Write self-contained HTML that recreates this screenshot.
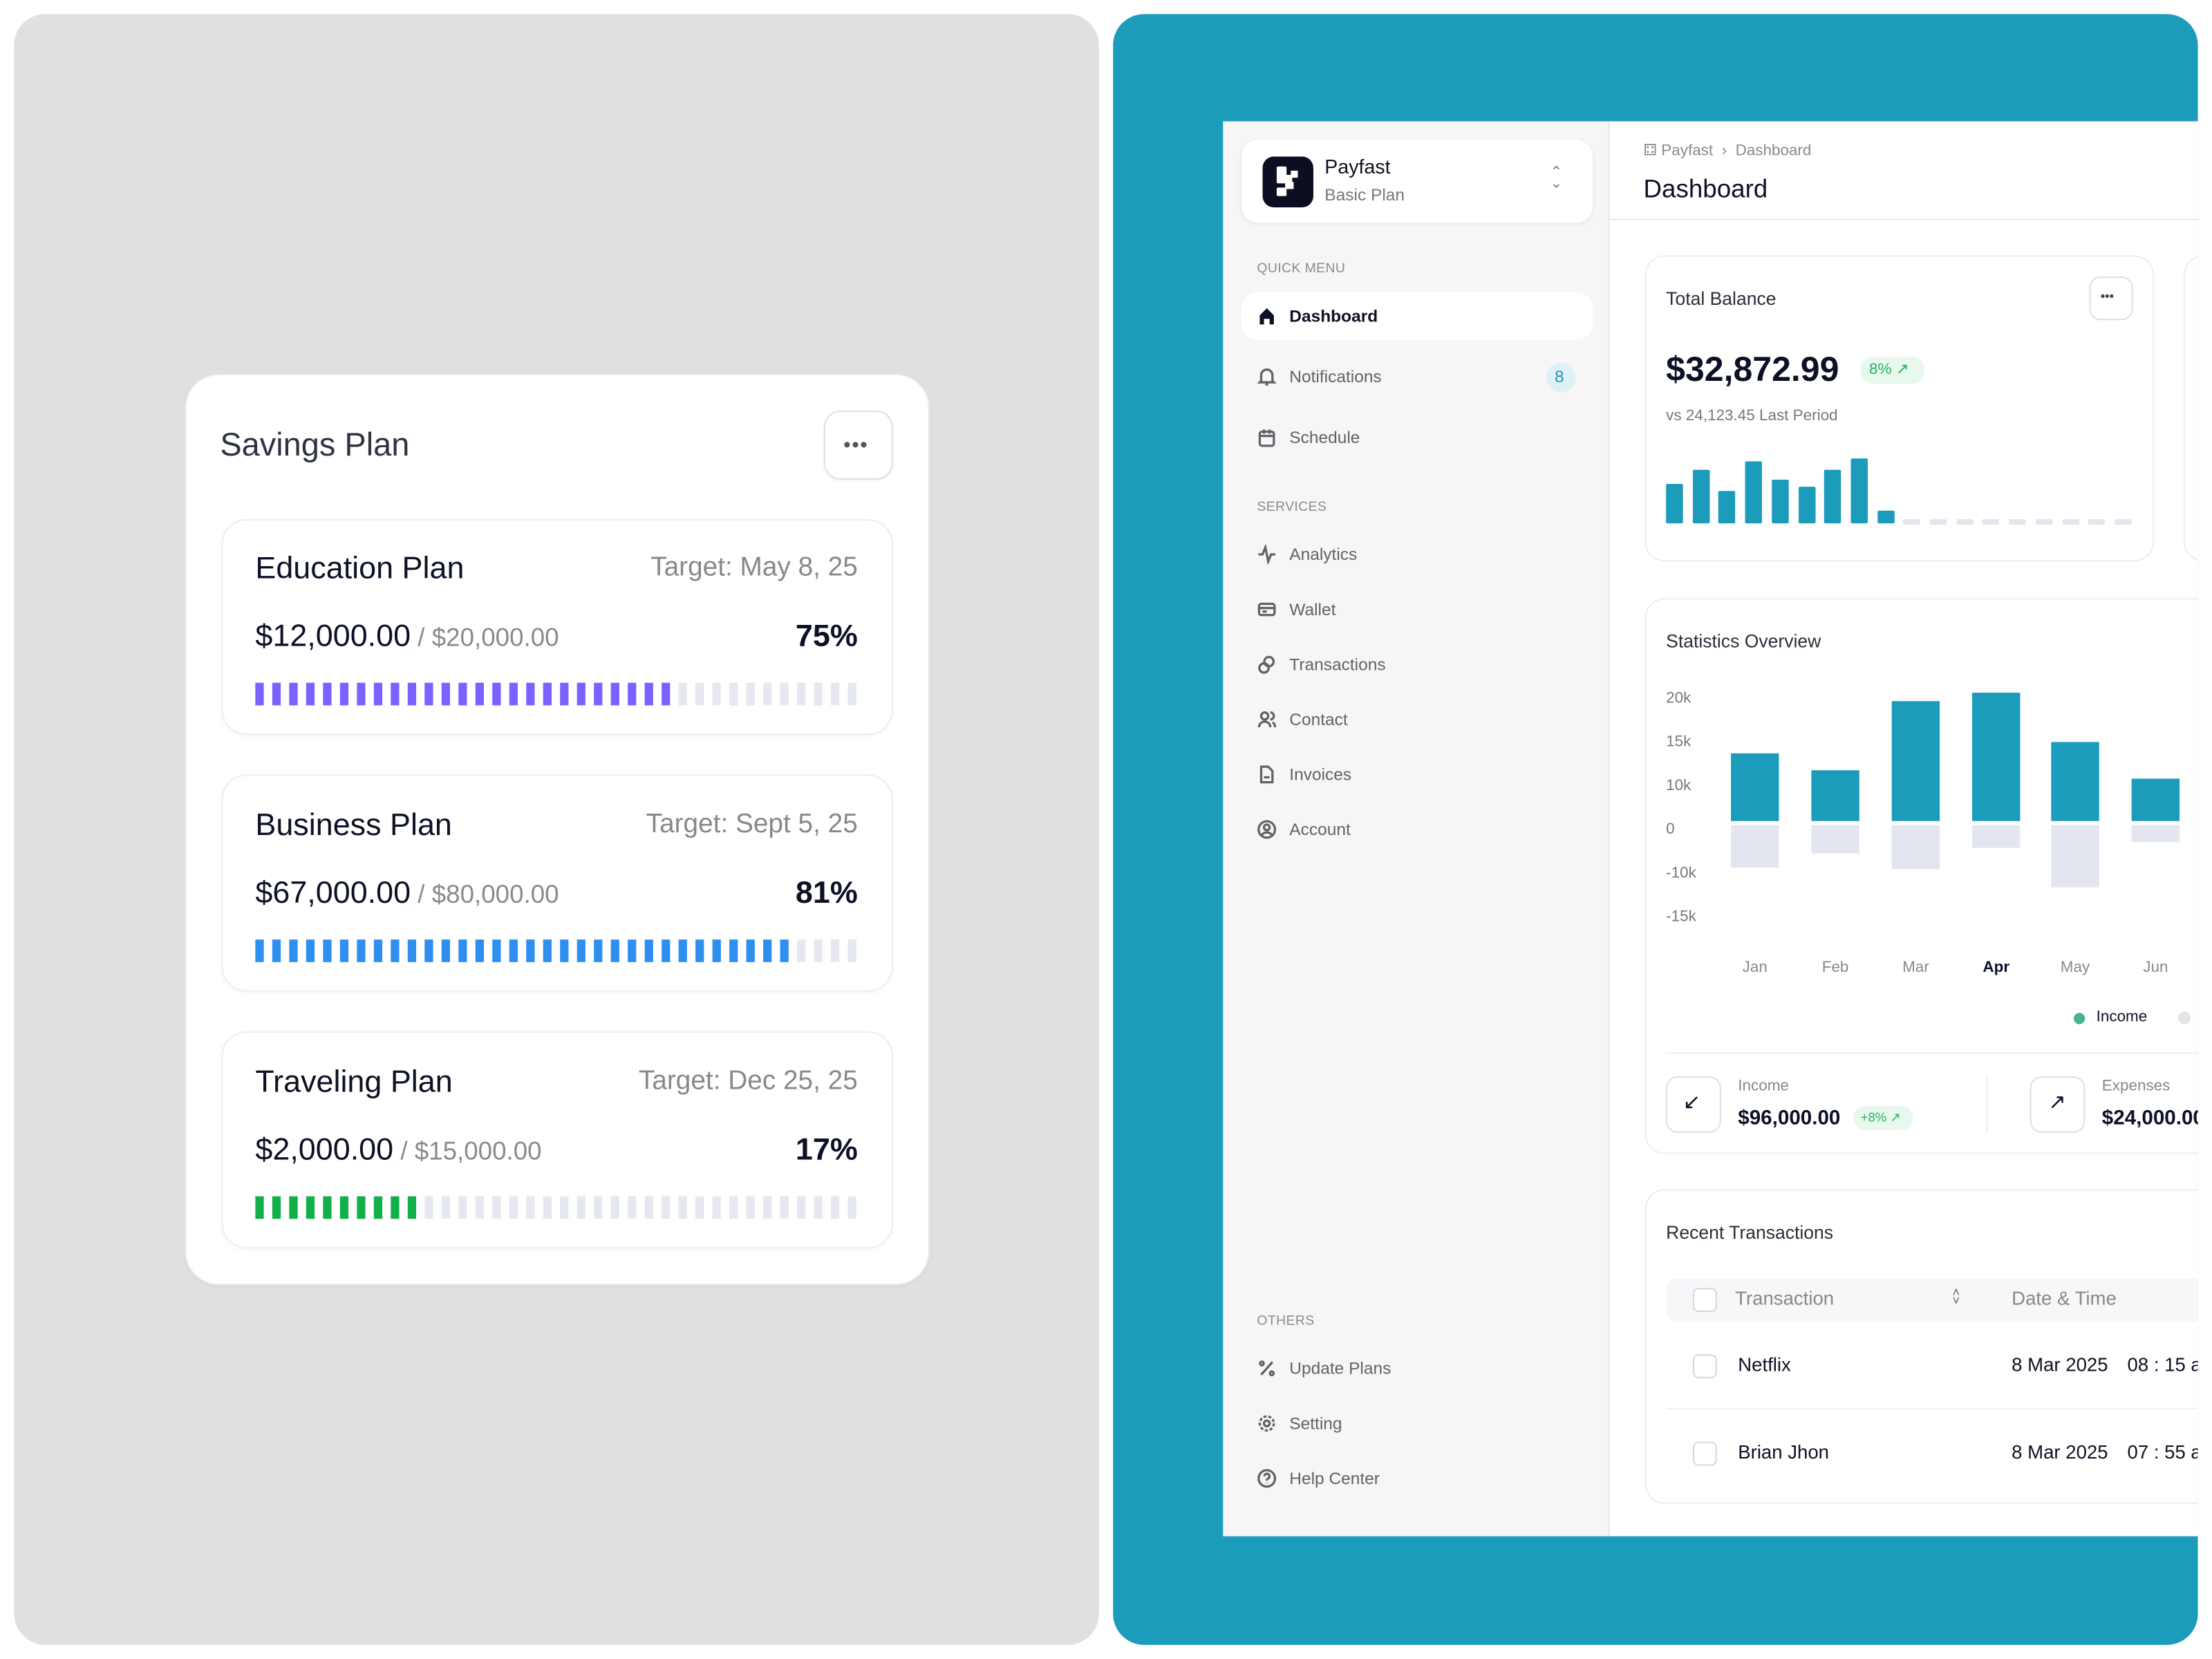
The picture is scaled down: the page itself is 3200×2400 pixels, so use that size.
<!DOCTYPE html>
<html><head><meta charset="utf-8"><style>
*{margin:0;padding:0;box-sizing:border-box}
html,body{width:3200px;height:2400px;overflow:hidden;background:#fff}
#s{position:absolute;left:0;top:0;width:1568px;height:1176px;transform:scale(2.0408);transform-origin:0 0;font-family:"Liberation Sans",sans-serif}
.a{position:absolute}
.t{position:absolute;white-space:nowrap;line-height:1}
.card{position:absolute;background:#fff;border:1px solid #eceef2;box-shadow:0 1px 3px rgba(0,0,0,.04)}
.bars{position:absolute;display:flex;gap:6px}
.bars span{display:block;width:6px;height:16px;background:#e5e8f0}
.nav{position:absolute;left:891px;font-size:12px;color:#5f6368;display:flex;align-items:center;gap:9px;line-height:1}
.nav svg{width:14px;height:14px;fill:none;stroke:#5f6368;stroke-width:1.6}
.sec{position:absolute;left:891px;font-size:9.5px;color:#8b8b8b;letter-spacing:.2px}
.yl{position:absolute;left:1181px;font-size:11px;color:#777;line-height:1}
.ml{position:absolute;font-size:11px;color:#888;line-height:1;transform:translateX(-50%)}
.cb{position:absolute;width:17px;height:17px;border:1px solid #d5d8de;border-radius:4px;background:#fff}
</style></head><body><div id="s">

<div class="a" style="left:10px;top:10px;width:769px;height:1156px;background:#e0e0e0;border-radius:22px"></div>
<div class="card" style="left:131px;top:265px;width:528px;height:646px;border-radius:24px;border-color:#ebebed"></div>
<div class="t" style="left:156px;top:304px;font-size:23px;color:#2f3341">Savings Plan</div>
<div class="a" style="left:584px;top:291px;width:49px;height:49px;border:1.5px solid #dde0e6;border-radius:12px;background:#fff;box-shadow:0 1px 2px rgba(0,0,0,.05)"></div>
<div class="t" style="left:598px;top:308px;font-size:14px;color:#555;letter-spacing:1px;font-weight:bold">•••</div>

<div class="card" style="left:157px;top:368px;width:476px;height:153px;border-radius:18px"></div>
<div class="t" style="left:181px;top:392px;font-size:22px;color:#0d1126">Education Plan</div>
<div class="t" style="right:960px;top:393px;font-size:19px;color:#888">Target: May 8, 25</div>
<div class="t" style="left:181px;top:440px;font-size:22px;color:#0d1126">$12,000.00<span style="font-size:18px;color:#8a8a8a"> / $20,000.00</span></div>
<div class="t" style="right:960px;top:440px;font-size:22px;color:#0d1126;font-weight:bold">75%</div>
<div class="bars" style="left:181px;top:484px" id="b1"></div>

<div class="card" style="left:157px;top:549px;width:476px;height:154px;border-radius:18px"></div>
<div class="t" style="left:181px;top:574px;font-size:22px;color:#0d1126">Business Plan</div>
<div class="t" style="right:960px;top:575px;font-size:19px;color:#888">Target: Sept 5, 25</div>
<div class="t" style="left:181px;top:622px;font-size:22px;color:#0d1126">$67,000.00<span style="font-size:18px;color:#8a8a8a"> / $80,000.00</span></div>
<div class="t" style="right:960px;top:622px;font-size:22px;color:#0d1126;font-weight:bold">81%</div>
<div class="bars" style="left:181px;top:666px" id="b2"></div>

<div class="card" style="left:157px;top:731px;width:476px;height:154px;border-radius:18px"></div>
<div class="t" style="left:181px;top:756px;font-size:22px;color:#0d1126">Traveling Plan</div>
<div class="t" style="right:960px;top:757px;font-size:19px;color:#888">Target: Dec 25, 25</div>
<div class="t" style="left:181px;top:804px;font-size:22px;color:#0d1126">$2,000.00<span style="font-size:18px;color:#8a8a8a"> / $15,000.00</span></div>
<div class="t" style="right:960px;top:804px;font-size:22px;color:#0d1126;font-weight:bold">17%</div>
<div class="bars" style="left:181px;top:848px" id="b3"></div>

<div class="a" style="left:789px;top:10px;width:769px;height:1156px;background:#1c9cbb;border-radius:22px"></div>
<div class="a" style="left:867px;top:86px;width:691px;height:1003px;background:#fff;overflow:hidden">
  <div class="a" style="left:0;top:0;width:274px;height:1003px;background:#f6f6f6;border-right:1px solid #e4e7ee"></div>
  <div class="a" style="left:274px;top:69px;width:420px;height:1px;background:#e8eaee"></div>
  <div class="a" style="left:299px;top:95px;width:361px;height:217px;border:1px solid #eceef2;border-radius:14px"></div>
  <div class="a" style="left:681px;top:95px;width:30px;height:217px;border:1px solid #eceef2;border-radius:14px"></div>
  <div class="a" style="left:299px;top:338px;width:420px;height:394px;border:1px solid #eceef2;border-radius:14px"></div>
  <div class="a" style="left:299px;top:757px;width:420px;height:223px;border:1px solid #eceef2;border-radius:14px"></div>
  <div class="a" style="left:314px;top:820px;width:420px;height:31px;background:#f6f7f9;border-radius:8px"></div>
  <div class="a" style="left:314px;top:912px;width:420px;height:1px;background:#eceef2"></div>
  <div class="a" style="left:314px;top:660px;width:420px;height:1px;background:#eceef2"></div>
  <div class="a" style="left:541px;top:677px;width:1px;height:40px;background:#eceef2"></div>
  <div class="t" style="left:641px;top:875px;font-size:13.5px;color:#0d1126">08 : 15 am</div>
  <div class="t" style="left:641px;top:937px;font-size:13.5px;color:#0d1126">07 : 55 am</div>
  <div class="t" style="left:623px;top:700px;font-size:14.5px;font-weight:bold;color:#0d1126">$24,000.00</div>
  <div class="a" style="left:677px;top:631px;width:9px;height:9px;border-radius:50%;background:#e3e5e9"></div>
</div>

<div class="a" style="left:880px;top:99px;width:249px;height:59px;background:#fff;border-radius:12px;box-shadow:0 1px 3px rgba(0,0,0,.07)"></div>
<div class="a" style="left:895px;top:111px;width:36px;height:36px;background:#0c0f22;border-radius:8px"></div>
<div class="a" style="left:905px;top:118px;width:7px;height:7px;background:#fff;border-radius:1px"></div>
<div class="a" style="left:905px;top:124px;width:11px;height:6px;background:#fff;border-radius:1px"></div>
<div class="a" style="left:915px;top:121px;width:5px;height:5px;background:#fff"></div>
<div class="a" style="left:911px;top:129px;width:6px;height:5px;background:#fff"></div>
<div class="a" style="left:905px;top:133px;width:7px;height:6px;background:#fff;border-radius:1px"></div>
<div class="t" style="left:939px;top:111px;font-size:14px;color:#0d1126">Payfast</div>
<div class="t" style="left:939px;top:132px;font-size:12px;color:#777">Basic Plan</div>
<div class="t" style="left:1099px;top:119px;font-size:10px;color:#777;line-height:8px;text-align:center">&#8963;<br>&#8964;</div>
<div class="sec" style="top:185px">QUICK MENU</div>
<div class="a" style="left:880px;top:207px;width:249px;height:34px;background:#fff;border-radius:12px"></div>
<div class="nav" style="top:217px;color:#0d1126;font-weight:bold"><svg viewBox="0 0 14 14" style="stroke:none;fill:#0d1126"><path d="M2 6.5L7 1.5L12 6.5V13H9V9H5V13H2Z"/></svg>Dashboard</div>
<div class="nav" style="top:260px"><svg viewBox="0 0 14 14"><path d="M3 10V6a4 4 0 018 0v4l1 1H2zM6 12.5h2"/></svg>Notifications</div>
<div class="a" style="left:1096px;top:257px;width:21px;height:21px;border-radius:50%;background:#dff1f6"></div>
<div class="t" style="left:1102px;top:261px;font-size:12px;color:#1c9cbb">8</div>
<div class="nav" style="top:303px"><svg viewBox="0 0 14 14"><rect x="2" y="3" width="10" height="10" rx="1.5"/><path d="M2 6h10M5 1.5v3M9 1.5v3"/></svg>Schedule</div>
<div class="sec" style="top:354px">SERVICES</div>
<div class="nav" style="top:386px"><svg viewBox="0 0 14 14"><path d="M1 7h3l2-5 2 10 2-5h3"/></svg>Analytics</div>
<div class="nav" style="top:425px"><svg viewBox="0 0 14 14"><rect x="1.5" y="3" width="11" height="8" rx="1.5"/><path d="M1.5 6h11M4 8.5h3"/></svg>Wallet</div>
<div class="nav" style="top:464px"><svg viewBox="0 0 14 14"><circle cx="8.5" cy="5" r="3.3"/><circle cx="5" cy="9.5" r="3.3"/></svg>Transactions</div>
<div class="nav" style="top:503px"><svg viewBox="0 0 14 14"><circle cx="5.5" cy="4.5" r="2.5"/><path d="M1.5 12.5a4 4 0 018 0M9.5 2a2.5 2.5 0 010 5M11 9a3.5 3.5 0 011.8 3.5"/></svg>Contact</div>
<div class="nav" style="top:542px"><svg viewBox="0 0 14 14"><path d="M3 1.5h5l3 3v8H3zM5 9h4"/></svg>Invoices</div>
<div class="nav" style="top:581px"><svg viewBox="0 0 14 14"><circle cx="7" cy="7" r="5.8"/><circle cx="7" cy="5.5" r="2"/><path d="M3.3 11a4.5 4.5 0 017.4 0"/></svg>Account</div>
<div class="sec" style="top:931px">OTHERS</div>
<div class="nav" style="top:963px"><svg viewBox="0 0 14 14"><path d="M3 11.5L11 2.5"/><circle cx="3.5" cy="3.5" r="1.3"/><circle cx="10.5" cy="10.5" r="1.3"/></svg>Update Plans</div>
<div class="nav" style="top:1002px"><svg viewBox="0 0 14 14"><circle cx="7" cy="7" r="2"/><circle cx="7" cy="7" r="5" stroke-dasharray="2.2 1.3"/></svg>Setting</div>
<div class="nav" style="top:1041px"><svg viewBox="0 0 14 14"><circle cx="7" cy="7" r="5.8"/><path d="M5.3 5.5a1.8 1.8 0 113 1.3c-.8.5-1.3.8-1.3 1.7M7 10.2v.3"/></svg>Help Center</div>

<div class="t" style="left:1165px;top:102px;font-size:11px;color:#888">&#x2683; Payfast &nbsp;&#8250;&nbsp; Dashboard</div>
<div class="t" style="left:1165px;top:125px;font-size:18px;color:#0d1126">Dashboard</div>

<div class="t" style="left:1181px;top:205px;font-size:13px;color:#2a2e3a">Total Balance</div>
<div class="a" style="left:1481px;top:196px;width:31px;height:31px;border:1px solid #dde0e6;border-radius:8px"></div>
<div class="t" style="left:1489px;top:206px;font-size:9px;color:#444;font-weight:bold">•••</div>
<div class="t" style="left:1181px;top:251px;font-size:24.5px;color:#0d1126;font-weight:bold">$32,872.99</div>
<div class="a" style="left:1319px;top:253px;width:45px;height:19px;background:#e8f8ee;border-radius:8px"></div>
<div class="t" style="left:1325px;top:257px;font-size:11px;color:#22b45a">8% &#8599;</div>
<div class="t" style="left:1181px;top:290px;font-size:11px;color:#777">vs 24,123.45 Last Period</div>
<div id="tb"></div>

<div class="t" style="left:1181px;top:448px;font-size:13px;color:#2a2e3a">Statistics Overview</div>
<div class="yl" style="top:490px">20k</div>
<div class="yl" style="top:521px">15k</div>
<div class="yl" style="top:552px">10k</div>
<div class="yl" style="top:583px">0</div>
<div class="yl" style="top:614px">-10k</div>
<div class="yl" style="top:645px">-15k</div>
<div id="sb"></div>
<div class="ml" style="left:1244px;top:681px">Jan</div>
<div class="ml" style="left:1301px;top:681px">Feb</div>
<div class="ml" style="left:1358px;top:681px">Mar</div>
<div class="ml" style="left:1415px;top:681px;color:#0d1126;font-weight:bold">Apr</div>
<div class="ml" style="left:1471px;top:681px">May</div>
<div class="ml" style="left:1528px;top:681px">Jun</div>
<div class="a" style="left:1470px;top:718px;width:8px;height:8px;border-radius:50%;background:#4caf95"></div>
<div class="t" style="left:1486px;top:716px;font-size:11px;color:#0d1126">Income</div>
<div class="a" style="left:1181px;top:763px;width:39px;height:40px;border:1px solid #dde0e6;border-radius:8px"></div>
<div class="t" style="left:1193px;top:774px;font-size:15px;color:#0d1126">&#8601;</div>
<div class="t" style="left:1232px;top:765px;font-size:11px;color:#888">Income</div>
<div class="t" style="left:1232px;top:786px;font-size:14.5px;font-weight:bold;color:#0d1126">$96,000.00</div>
<div class="a" style="left:1314px;top:784px;width:42px;height:17px;background:#e8f8ee;border-radius:8px"></div>
<div class="t" style="left:1319px;top:788px;font-size:9px;color:#22b45a">+8% &#8599;</div>
<div class="a" style="left:1439px;top:763px;width:39px;height:40px;border:1px solid #dde0e6;border-radius:8px"></div>
<div class="t" style="left:1452px;top:774px;font-size:15px;color:#0d1126">&#8599;</div>
<div class="t" style="left:1490px;top:765px;font-size:11px;color:#888">Expenses</div>

<div class="t" style="left:1181px;top:867px;font-size:13px;color:#2a2e3a">Recent Transactions</div>
<div class="cb" style="left:1200px;top:913px"></div>
<div class="t" style="left:1230px;top:914px;font-size:13.5px;color:#888">Transaction</div>
<div class="t" style="left:1384px;top:913px;font-size:9px;color:#666;line-height:6px">&#708;<br>&#709;</div>
<div class="t" style="left:1426px;top:914px;font-size:13.5px;color:#888">Date &amp; Time</div>
<div class="cb" style="left:1200px;top:960px"></div>
<div class="t" style="left:1232px;top:961px;font-size:13.5px;color:#0d1126">Netflix</div>
<div class="t" style="left:1426px;top:961px;font-size:13.5px;color:#0d1126">8 Mar 2025</div>
<div class="cb" style="left:1200px;top:1022px"></div>
<div class="t" style="left:1232px;top:1023px;font-size:13.5px;color:#0d1126">Brian Jhon</div>
<div class="t" style="left:1426px;top:1023px;font-size:13.5px;color:#0d1126">8 Mar 2025</div>

</div>
<script>
function bars(id,n,on,c){var e=document.getElementById(id),h='';for(var i=0;i<36;i++)h+='<span style="background:'+(i<on?c:'#e5e8f0')+'"></span>';e.innerHTML=h;}
bars('b1',36,25,'#7b61ff');bars('b2',36,32,'#2e8ff0');bars('b3',36,10,'#12b04a');
var tb='',hs=[28,38,23,44,31,26,38,46,9];
for(var i=0;i<18;i++){var x=1181+i*18.7;if(i<9)tb+='<div class="a" style="left:'+x+'px;top:'+(371-hs[i])+'px;width:12px;height:'+hs[i]+'px;background:#1c9cbb;border-radius:1px"></div>';else tb+='<div class="a" style="left:'+x+'px;top:368px;width:12px;height:4px;background:#e3e6ee;border-radius:1px"></div>';}
document.getElementById('tb').innerHTML=tb;
var cx=[1244,1301,1358,1415,1471,1528],it=[534,546,497,491,526,552],eb=[615,605,616,601,629,597],sb='';
for(var i=0;i<6;i++){sb+='<div class="a" style="left:'+(cx[i]-17)+'px;top:'+it[i]+'px;width:34px;height:'+(582-it[i])+'px;background:#1c9cbb"></div>';sb+='<div class="a" style="left:'+(cx[i]-17)+'px;top:585px;width:34px;height:'+(eb[i]-585)+'px;background:#e3e6ef"></div>';}
document.getElementById('sb').innerHTML=sb;
</script>
</body></html>
